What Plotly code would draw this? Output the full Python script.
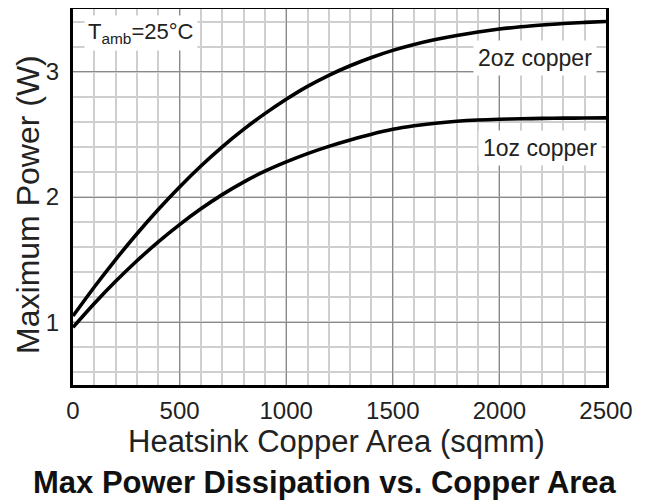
import plotly.graph_objects as go

area = [0, 100, 200, 300, 400, 500, 600, 700, 800, 900, 1000, 1100, 1200, 1300, 1400,
        1500, 1600, 1700, 1800, 1900, 2000, 2100, 2200, 2300, 2400, 2500]
power_2oz = [1.05, 1.282, 1.501, 1.707, 1.900, 2.080, 2.247, 2.400, 2.539, 2.665, 2.780,
             2.883, 2.971, 3.047, 3.113, 3.170, 3.217, 3.256, 3.289, 3.317, 3.340,
             3.358, 3.372, 3.384, 3.393, 3.400]
power_1oz = [0.96, 1.150, 1.327, 1.491, 1.642, 1.780, 1.906, 2.019, 2.119, 2.206, 2.280,
             2.346, 2.404, 2.455, 2.501, 2.540, 2.568, 2.589, 2.604, 2.614, 2.620,
             2.624, 2.627, 2.629, 2.630, 2.631]
x_ticks = [0, 500, 1000, 1500, 2000, 2500]
y_ticks = [1, 2, 3]

FONT = "Liberation Sans, Arial, sans-serif"
TXT = "#222"

fig = go.Figure()
for ys in (power_2oz, power_1oz):
    fig.add_trace(go.Scatter(x=area, y=ys, mode="lines",
                             line=dict(color="black", width=3.6, shape="spline", smoothing=1.0),
                             showlegend=False, hoverinfo="skip"))

# page body adds an 8px offset; figure sized/margined to compensate
fig.update_layout(
    width=643, height=494,
    margin=dict(l=65, r=45, t=1, b=117, autoexpand=False),
    plot_bgcolor="white", paper_bgcolor="white",
    font=dict(family=FONT, color=TXT),
)
fig.update_xaxes(
    range=[0, 2500], tickvals=x_ticks, ticktext=[str(v) for v in x_ticks],
    tickfont=dict(size=24, color=TXT), ticks="", ticklabelstandoff=2,
    showgrid=True, gridcolor="#8a8a8a", gridwidth=1.3,
    minor=dict(dtick=100, showgrid=True, gridcolor="#cfcfcf", gridwidth=1.5),
    showline=True, linecolor="black", linewidth=3, mirror=True,
    zeroline=False,
)
fig.update_yaxes(
    range=[0.5, 3.5], tickvals=y_ticks, ticktext=[str(v) for v in y_ticks],
    tickfont=dict(size=24, color=TXT), ticks="", ticklabelstandoff=6,
    showgrid=True, gridcolor="#8a8a8a", gridwidth=1.3,
    minor=dict(tick0=0, dtick=0.2, showgrid=True, gridcolor="#cfcfcf", gridwidth=1.5),
    showline=True, linecolor="black", linewidth=3, mirror=True,
    zeroline=False,
)

# axis titles and caption
fig.add_annotation(x=0, y=0.479, xref="paper", yref="paper", xanchor="center", yanchor="middle",
                   xshift=-45, textangle=-90, text="Maximum Power (W)", showarrow=False,
                   font=dict(size=32, color=TXT))
fig.add_annotation(x=0.5, y=0, xref="paper", yref="paper", xanchor="center", yanchor="middle",
                   yshift=-56, xshift=-3, text="Heatsink Copper Area (sqmm)", showarrow=False,
                   font=dict(size=31, color=TXT))
fig.add_annotation(x=0.5, y=0, xref="paper", yref="paper", xanchor="center", yanchor="middle",
                   yshift=-97, xshift=-15, text="<b>Max Power Dissipation vs. Copper Area</b>",
                   showarrow=False, font=dict(size=31, color="#111"))

# in-plot labels
fig.add_annotation(x=0, y=1, xref="paper", yref="paper", xanchor="left", yanchor="middle",
                   xshift=11, yshift=-24, borderpad=3,
                   text="T<sub>amb</sub>=25°C", showarrow=False, bgcolor="white",
                   font=dict(size=22, color=TXT))
fig.add_annotation(x=2167, y=3.11, xref="x", yref="y", xanchor="center", yanchor="middle",
                   borderpad=4, text="2oz copper", showarrow=False, bgcolor="white",
                   font=dict(size=23, color=TXT))
fig.add_annotation(x=2190, y=2.39, xref="x", yref="y", xanchor="center", yanchor="middle",
                   borderpad=4, text="1oz copper", showarrow=False, bgcolor="white",
                   font=dict(size=23, color=TXT))

fig.write_html("out.html")
